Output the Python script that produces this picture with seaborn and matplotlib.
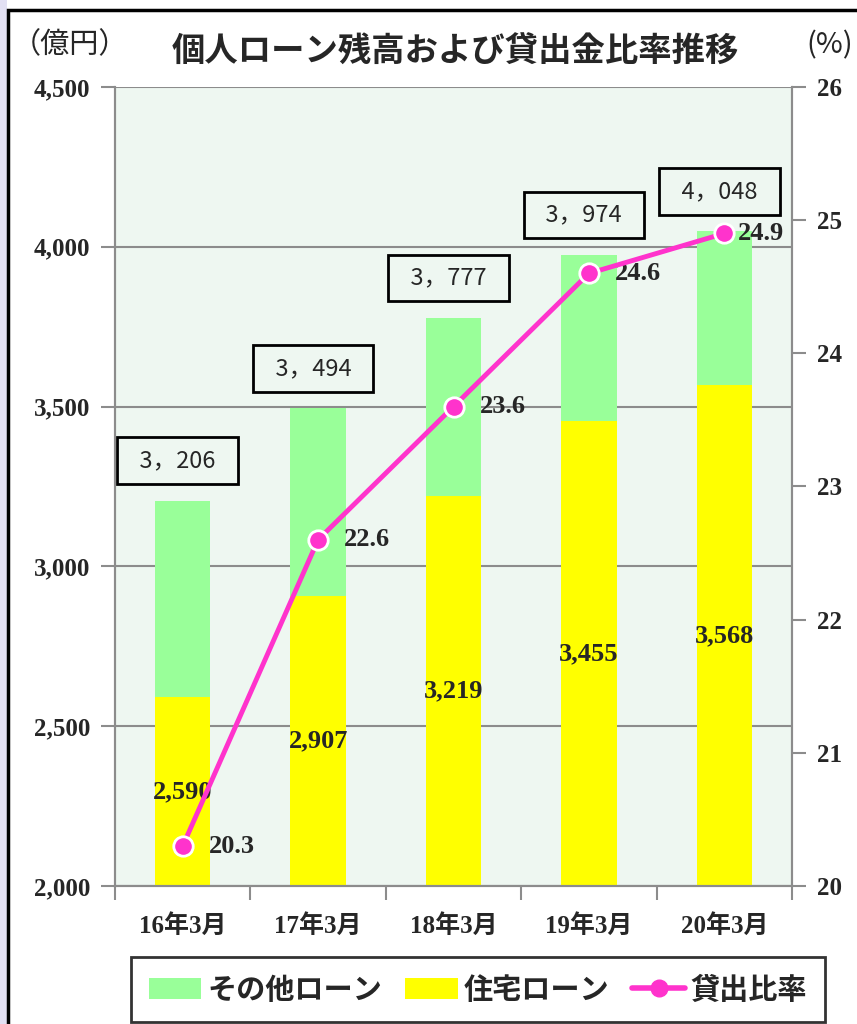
import numpy as np
import pandas as pd
import matplotlib
matplotlib.use('Agg')
import matplotlib.pyplot as plt
from matplotlib.patches import Patch, Rectangle
from matplotlib.lines import Line2D
import seaborn as sns

periods = ['16年3月', '17年3月', '18年3月', '19年3月', '20年3月']
total_loans = [3206, 3494, 3777, 3974, 4048]
housing_loans = [2590, 2907, 3219, 3455, 3568]
loan_ratio = [20.3, 22.6, 23.6, 24.6, 24.9]

GREEN = '#99FF99'
YELLOW = '#FFFF00'
PINK = '#FF33CC'
PLOT_BG = '#EEF7F1'
GRID = '#8C8C8C'
JP = ['Noto Sans CJK JP', 'DejaVu Sans']
SERIF = ['Liberation Serif', 'Noto Sans CJK JP']


def draw_axes(fig, df):
    ax = fig.add_axes([0.1342, 0.1348, 0.7900, 0.7803])
    ax.set_facecolor(PLOT_BG)
    sns.barplot(data=df, x='period', y='total', color=GREEN, width=0.41,
                saturation=1, errorbar=None, ax=ax, zorder=2, linewidth=0,
                edgecolor='none')
    sns.barplot(data=df, x='period', y='housing', color=YELLOW, width=0.41,
                saturation=1, errorbar=None, ax=ax, zorder=2, linewidth=0,
                edgecolor='none')
    ax.set_xlim(-0.5, len(periods) - 0.5)
    ax.set_ylim(2000, 4500)
    yt = list(range(2000, 4501, 500))
    ax.set_yticks(yt, labels=[f'{v:,}' for v in yt], fontfamily=SERIF,
                  fontweight='bold', fontsize=18)
    ax.set_xticks(range(len(periods)), labels=periods, fontfamily=SERIF,
                  fontweight='bold', fontsize=18)
    ax.set_xticks(np.arange(-0.5, len(periods), 1), minor=True)
    ax.tick_params(axis='x', which='major', length=0, pad=20)
    ax.tick_params(axis='x', which='minor', length=10, width=1.5, color=GRID, direction='out')
    ax.tick_params(axis='y', length=10, width=1.5, color=GRID, direction='out', pad=8)
    ax.yaxis.grid(True, color=GRID, lw=1.5)
    ax.set_axisbelow(True)
    ax.set_xlabel('')
    ax.set_ylabel('')
    for side in ['left', 'bottom', 'right']:
        ax.spines[side].set_color(GRID)
        ax.spines[side].set_linewidth(1.5)
    ax.spines['top'].set_visible(False)

    # totals in boxes, housing values in the middle of the yellow part
    for i, (t, h) in enumerate(zip(df['total'], df['housing'])):
        ax.annotate(f'  {t // 1000}，{t % 1000:03d}  ', (i, t), xytext=(-5, 40),
                    textcoords='offset pixels', ha='center', va='center',
                    fontsize=17, fontfamily=JP, zorder=5,
                    bbox=dict(boxstyle='square,pad=0.5', fc=PLOT_BG, ec='black', lw=2))
        ax.text(i, (2000 + h) / 2, f'{h:,}', ha='center', va='center',
                fontfamily=SERIF, fontweight='bold', fontsize=19, zorder=5)

    ax2 = ax.twinx()
    sns.lineplot(x=np.arange(len(periods)), y=df['ratio'], ax=ax2, color=PINK,
                 lw=3.5, marker='o', markersize=14, markeredgecolor='white',
                 markeredgewidth=2, legend=False, zorder=4)
    ax2.set_ylim(20, 26)
    ax2.set_yticks(range(20, 27), labels=[str(v) for v in range(20, 27)],
                   fontfamily=SERIF, fontweight='bold', fontsize=18)
    ax2.tick_params(axis='y', right=True, length=10, width=1.5, color=GRID,
                    direction='out', pad=8)
    ax2.set_ylabel('')
    for side in ['left', 'bottom', 'right']:
        ax2.spines[side].set_color(GRID)
        ax2.spines[side].set_linewidth(1.5)
    ax2.spines['top'].set_visible(False)
    for i, r in enumerate(df['ratio']):
        dx = 26 if i < len(periods) - 1 else 14
        ax2.annotate(f'{r:.1f}', (i, r), xytext=(dx, 0), textcoords='offset pixels',
                     ha='left', va='center', fontfamily=SERIF, fontweight='bold',
                     fontsize=19)
    return ax, ax2


def main():
    sns.set_theme(style='ticks')
    plt.rcParams['font.family'] = JP
    df = pd.DataFrame({'period': periods, 'total': total_loans,
                       'housing': housing_loans, 'ratio': loan_ratio})

    fig = plt.figure(figsize=(8.57, 10.24), dpi=100)
    fig.patch.set_facecolor('white')
    fig.add_artist(Rectangle((0, 0), 7 / 857, 1, transform=fig.transFigure,
                             fc='#E2E0F3', ec='none'))
    fig.add_artist(Rectangle((8 / 857, -0.1), 1.2, 1.1 - 10 / 1024,
                             transform=fig.transFigure, fill=False, ec='black', lw=2.5))

    draw_axes(fig, df)

    fig.text(455 / 857, 1 - 52 / 1024, '個人ローン残高および貸出金比率推移',
             ha='center', va='center', fontsize=24, fontweight='bold')
    fig.text(70 / 857, 1 - 45 / 1024, '（億円）', ha='center', va='center', fontsize=21)
    fig.text(830 / 857, 1 - 45 / 1024, '(%)', ha='center', va='center', fontsize=21)

    handles = [Patch(fc=GREEN, ec='none'), Patch(fc=YELLOW, ec='none'),
               Line2D([0], [0], color=PINK, lw=4, marker='o', markersize=12)]
    leg = fig.legend(handles, ['その他ローン', '住宅ローン', '貸出比率'],
                     loc='upper center', bbox_to_anchor=(478 / 857, 1 - 957 / 1024),
                     ncol=3, frameon=True, fancybox=False, edgecolor='black',
                     prop=dict(family=JP, weight='bold', size=21),
                     handlelength=1.8, handleheight=0.7, handletextpad=0.2,
                     columnspacing=0.8, borderpad=0.6, borderaxespad=0)
    leg.get_frame().set_linewidth(2)

    fig.savefig('out.png', dpi=100)


if __name__ == '__main__':
    main()
